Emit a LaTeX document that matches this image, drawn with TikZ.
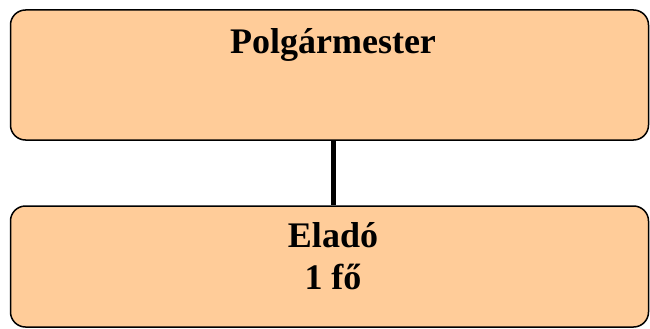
\documentclass[tikz,border=0pt]{standalone}
\usepackage{fontspec}
\setmainfont{Liberation Serif}
\usetikzlibrary{positioning}
\definecolor{peach}{HTML}{FFCC99}

\begin{document}
\begin{tikzpicture}[x=1pt,y=-1pt,
  box/.style={draw,fill=peach,line width=1.5pt,rounded corners=15pt,
    minimum width=638pt,inner sep=0pt},
  title/.style={font=\fontsize{36}{42}\selectfont\bfseries,align=center}]
\useasboundingbox (0,0) rectangle (650,329);
\node[box,minimum height=130pt] at (329.5,75) (pm) {};
\node[box,minimum height=121pt] at (329.5,266.5) (el) {};
\node[title,anchor=base] at (333,54) (pmtext) {Polgármester};
\node[title,anchor=base] at (333,289) (eltext) {Eladó\\1 fő};
\draw[line width=5pt] ([xshift=3.5pt]pm.south) -- ([xshift=3.5pt]el.north);
\end{tikzpicture}
\end{document}
